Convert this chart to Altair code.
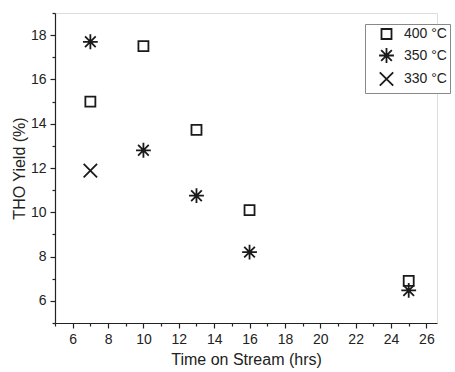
import altair as alt
import pandas as pd

series_400 = "400 °C"
series_350 = "350 °C"
series_330 = "330 °C"

t_400 = [7, 10, 13, 16, 25]
y_400 = [15.0, 17.5, 13.72, 10.1, 6.9]
t_350 = [7, 10, 13, 16, 25]
y_350 = [17.7, 12.8, 10.75, 8.2, 6.47]
t_330 = [7]
y_330 = [11.88]

x_ticks = list(range(5, 27))
y_ticks = list(range(5, 20))

rows = []
for s, ts, ys in [(series_400, t_400, y_400), (series_350, t_350, y_350), (series_330, t_330, y_330)]:
    for t, v in zip(ts, ys):
        rows.append({"series": s, "time": t, "yield": v})
df = pd.DataFrame(rows)

order = [series_400, series_350, series_330]
asterisk = "M0,-1L0,1M-1,0L1,0M-0.72,-0.72L0.72,0.72M-0.72,0.72L0.72,-0.72"
xshape = "M-1,-1L1,1M-1,1L1,-1"

FONT = "Liberation Sans"


def make_legend():
    return alt.Legend(title=None, orient="none", legendX=310, legendY=11,
                      strokeColor="#888", padding=3, labelFont=FONT,
                      labelFontSize=14, labelColor="#222", rowPadding=1,
                      symbolStrokeWidth=1.8, symbolStrokeColor="#1a1a1a",
                      symbolOffset=10, labelOffset=9, fillColor="white")


def axis(title, pad):
    return alt.Axis(title=title,
                    labelExpr="datum.value % 2 ? '' : datum.label",
                    tickSize={"condition": {"test": "datum.value % 2", "value": 3}, "value": 5},
                    grid=False, domainColor="#222", tickColor="#222", labelColor="#222",
                    titleColor="#222", labelFont=FONT, titleFont=FONT, labelFontSize=14,
                    titleFontSize=16, titleFontWeight="normal", labelPadding=4, titlePadding=pad,
                    domainWidth=1.2, tickWidth=1.2, labelFlush=False)


xa = axis("Time on Stream (hrs)", 5)
xa.values = x_ticks
ya = axis("THO Yield (%)", 3)
ya.values = y_ticks

chart = alt.Chart(df).mark_point(filled=False, strokeWidth=1.8, color="#1a1a1a", opacity=1).encode(
    x=alt.X("time:Q", scale=alt.Scale(domain=[5, 26.6], nice=False, zero=False), axis=xa),
    y=alt.Y("yield:Q", scale=alt.Scale(domain=[5, 19], nice=False, zero=False), axis=ya),
    shape=alt.Shape("series:N", scale=alt.Scale(domain=order, range=["square", asterisk, xshape]),
                    legend=make_legend()),
    size=alt.Size("series:N", scale=alt.Scale(type="ordinal", domain=order, range=[100, 220, 180]),
                  legend=make_legend()),
)

chart = chart.properties(
    width=382, height=310,
    autosize=alt.AutoSizeParams(type="none"),
    padding={"left": 55, "top": 13, "right": 18, "bottom": 49},
).configure_view(stroke=None).configure(background="white")

chart.save("out.html", embed_options={"renderer": "svg", "actions": False})
